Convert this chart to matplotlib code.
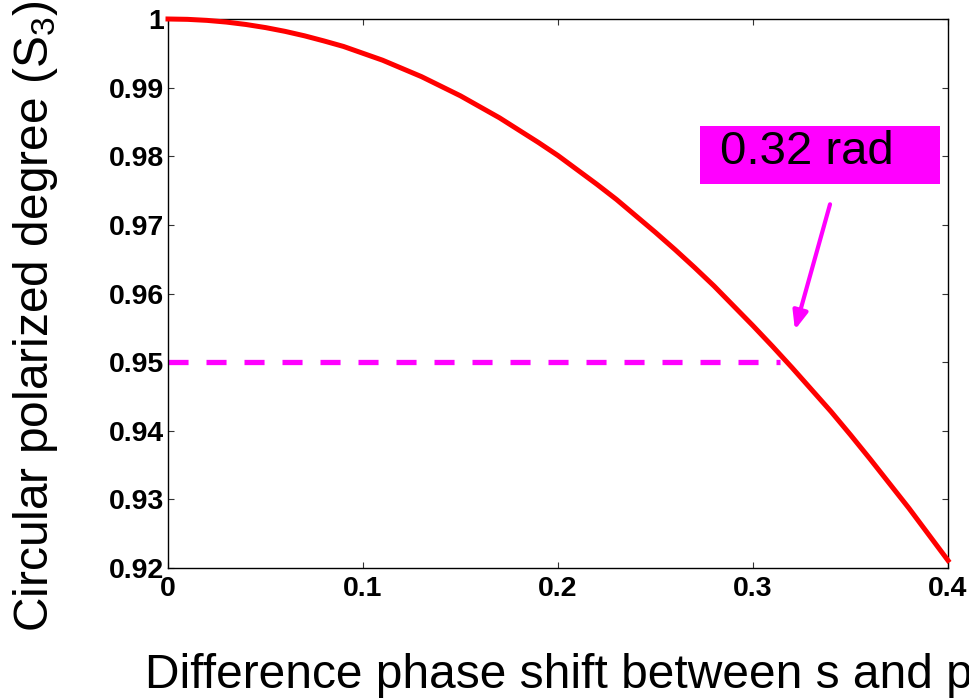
import matplotlib
matplotlib.use('Agg')
import matplotlib.pyplot as plt
from matplotlib.patches import Rectangle

plt.rcParams['font.family'] = ['Liberation Sans', 'DejaVu Sans']
plt.rcParams['mathtext.fontset'] = 'custom'
plt.rcParams['mathtext.rm'] = 'Liberation Sans'
plt.rcParams['mathtext.it'] = 'Liberation Sans'
plt.rcParams['mathtext.bf'] = 'Liberation Sans:bold'

# values
phase = [0.00, 0.01, 0.02, 0.03, 0.04, 0.05, 0.06, 0.07, 0.08, 0.09, 0.10,
         0.11, 0.12, 0.13, 0.14, 0.15, 0.16, 0.17, 0.18, 0.19, 0.20,
         0.21, 0.22, 0.23, 0.24, 0.25, 0.26, 0.27, 0.28, 0.29, 0.30,
         0.31, 0.32, 0.33, 0.34, 0.35, 0.36, 0.37, 0.38, 0.39, 0.40]
s3 = [1.0000, 0.99995, 0.9998, 0.99955, 0.9992, 0.99875, 0.9982, 0.99755,
      0.9968, 0.9960, 0.9950, 0.9940, 0.9928, 0.9916, 0.9902, 0.9888,
      0.9872, 0.9856, 0.9838, 0.9820, 0.9801, 0.9780, 0.9759, 0.9737,
      0.9713, 0.9689, 0.9664, 0.9638, 0.9611, 0.9582, 0.9553, 0.9523,
      0.9492, 0.9460, 0.9428, 0.9394, 0.9359, 0.9323, 0.9287, 0.9249, 0.9211]

level = 0.95
level_end = 0.314
label_text = '0.32 rad'
xticks = [0, 0.1, 0.2, 0.3, 0.4]
xtick_labels = ['0', '0.1', '0.2', '0.3', '0.4']
yticks = [0.92, 0.93, 0.94, 0.95, 0.96, 0.97, 0.98, 0.99, 1.0]
ytick_labels = ['0.92', '0.93', '0.94', '0.95', '0.96', '0.97', '0.98', '0.99', '1']

fig = plt.figure(figsize=(9.7, 7), dpi=100)
ax = fig.add_axes([168/970, 132/700, 780/970, 549/700])

ax.plot(phase, s3, color='red', lw=3.6, clip_on=False, zorder=3)
ax.plot([0, level_end], [level, level], color='magenta', lw=3.8,
        dashes=[3.8, 3.4], solid_capstyle='butt', dash_capstyle='butt')

ax.set_xlim(0, 0.4)
ax.set_ylim(0.92, 1.0)
ax.set_xticks(xticks)
ax.set_xticklabels(xtick_labels)
ax.set_yticks(yticks)
ax.set_yticklabels(ytick_labels)
for lab in ax.get_xticklabels() + ax.get_yticklabels():
    lab.set_fontweight('bold')
    lab.set_fontsize(20.5)
ax.tick_params(axis='both', direction='in', length=4, width=0.8,
               color='#333333', top=True, right=True)
ax.tick_params(axis='x', pad=6)
ax.tick_params(axis='y', pad=3)
for sp in ax.spines.values():
    sp.set_linewidth(1.0)

# annotation box and arrow
ax.add_patch(Rectangle((0.2728, 0.97591), 0.1231, 0.00847,
                       facecolor='magenta', edgecolor='none', zorder=4))
ax.text(0.2831, 0.97883, label_text, fontsize=34, va='baseline', ha='left',
        zorder=5)
ax.annotate('', xy=(0.3215, 0.9547), xytext=(0.3395, 0.9730),
            arrowprops=dict(arrowstyle='-|>,head_length=1.1,head_width=0.45',
                            color='magenta', lw=3.0,
                            shrinkA=0, shrinkB=0))

fig.text(48/970, 68/700, 'Circular polarized degree (S$_3$)', fontsize=34.5,
         rotation=90, rotation_mode='anchor', ha='left', va='baseline')
fig.text(145/970, 12/700, 'Difference phase shift between s and p',
         fontsize=34.5, ha='left', va='baseline')

plt.savefig('out.png', dpi=100)
